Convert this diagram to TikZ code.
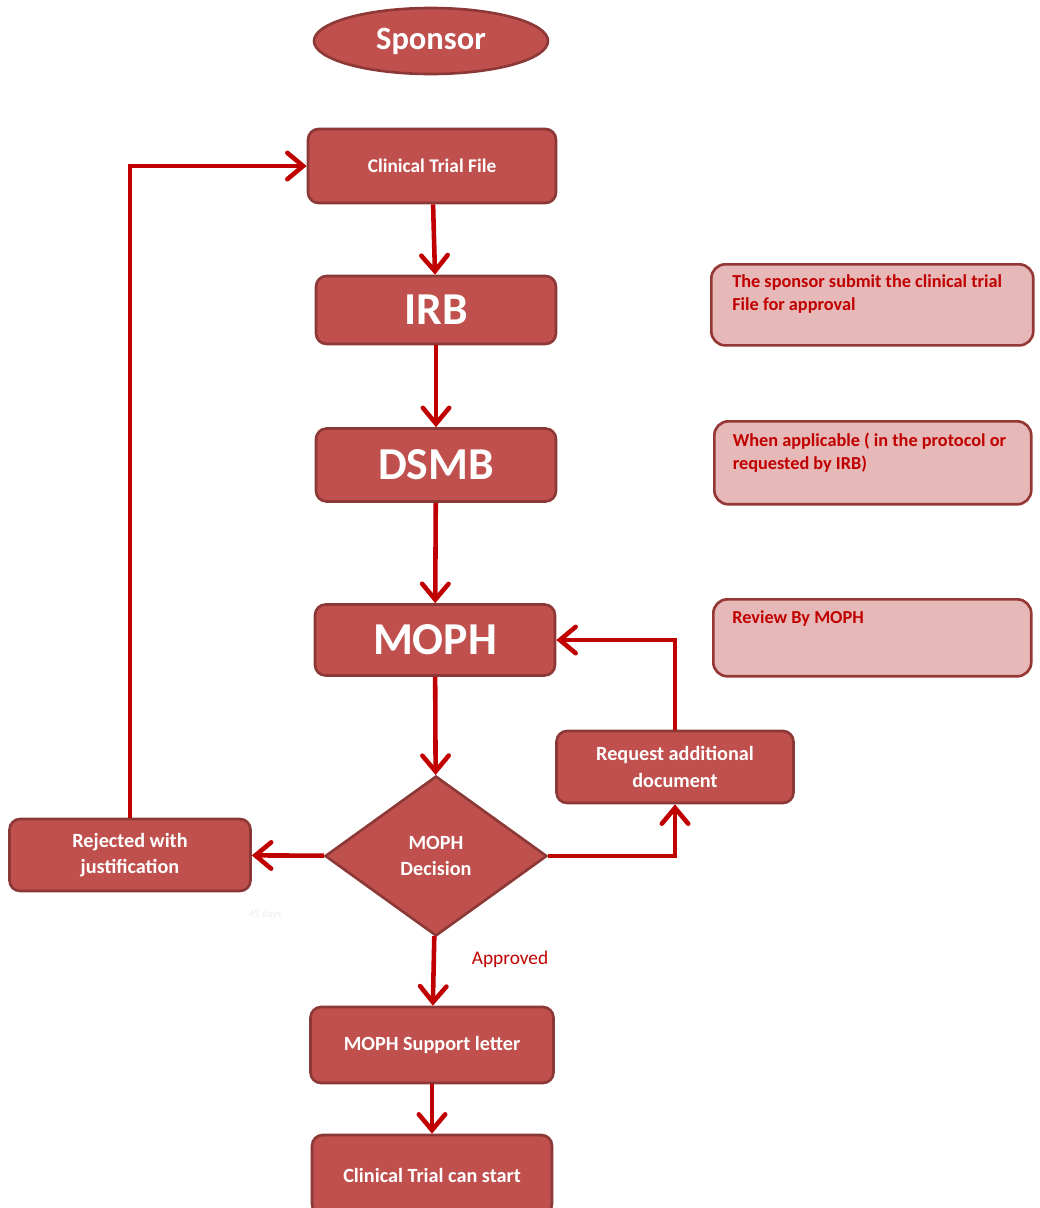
\documentclass[tikz,border=0pt]{standalone}
\usepackage{fontspec}
\setmainfont{Carlito}
\usetikzlibrary{arrows.meta,positioning,shapes.geometric}

\definecolor{boxred}{HTML}{C0504D}
\definecolor{boxedge}{HTML}{8C3836}
\definecolor{linkred}{HTML}{C00000}
\definecolor{notefill}{HTML}{E6B9B8}
\definecolor{noteedge}{HTML}{953735}

\begin{document}
\begin{tikzpicture}[
    x=0.02cm, y=-0.02cm,
    stepbox/.style={
        draw=boxedge,
        line width=1.5pt,
        rounded corners=6pt,
        fill=boxred,
        text=white,
        align=center,
        font=\bfseries\fontsize{11.5}{15}\selectfont,
        minimum width=4.8cm,
        minimum height=1.44cm
    },
    bigbox/.style={
        stepbox,
        font=\bfseries\fontsize{26}{28}\selectfont
    },
    notebox/.style={
        draw=noteedge,
        line width=1.5pt,
        rounded corners=8pt,
        fill=notefill,
        text=linkred,
        align=left,
        anchor=north west,
        font=\bfseries\fontsize{10.4}{13}\selectfont,
        inner xsep=8pt, inner ysep=6pt
    },
    line/.style={-{Straight Barb[length=9pt,width=15pt,line cap=round]}, line width=2.6pt, draw=linkred}
]
    \useasboundingbox (0,0) rectangle (1040,1208);

    % top of the chain
    \node[ellipse, draw=boxedge, line width=1.5pt, fill=boxred, text=white,
          minimum width=4.68cm, minimum height=1.32cm,
          font=\bfseries\fontsize{18.5}{20}\selectfont] (sponsor) at (431,41) {Sponsor};
    \node[stepbox, minimum width=4.96cm, minimum height=1.48cm,
          font=\bfseries\fontsize{11}{13}\selectfont] (ctf) at (432,166) {Clinical Trial File};
    \node[bigbox, minimum height=1.36cm] (irb) at (436,310) {IRB};
    \node[bigbox, minimum height=1.46cm] (dsmb) at (436,465) {DSMB};
    \node[bigbox, minimum height=1.42cm] (moph) at (435,640) {MOPH};

    % decision and its outcomes
    \node[diamond, draw=boxedge, line width=1.5pt, fill=boxred, text=white, align=center,
          inner sep=0pt, minimum width=4.44cm, minimum height=3.2cm,
          font=\bfseries\fontsize{11.5}{15}\selectfont] (decision) at (436,856) {MOPH\\Decision};
    \node[stepbox, minimum width=4.74cm] (request) at (675,767) {Request additional\\document};
    \node[stepbox, minimum width=4.82cm] (rejected) at (130,855) {Rejected with\\justification};
    \node[stepbox, minimum width=4.86cm, minimum height=1.52cm] (support) at (432,1045) {MOPH Support letter};
    \node[stepbox, minimum height=1.6cm] (start) at (432,1175) {Clinical Trial can start};

    % side notes
    \node[notebox, minimum width=6.44cm, minimum height=1.62cm] (note1) at (710,263)
        {\parbox[t][1.2cm][t]{5.6cm}{The sponsor submit the clinical trial\\File for approval}};
    \node[notebox, minimum width=6.34cm, minimum height=1.66cm] (note2) at (713,420)
        {\parbox[t][1.2cm][t]{5.6cm}{When applicable ( in the protocol or\\requested by IRB)}};
    \node[notebox, minimum width=6.36cm, minimum height=1.54cm] (note3) at (712,598)
        {\parbox[t][1.1cm][t]{5.6cm}{Review By MOPH}};

    \node[text=linkred, font=\fontsize{11}{13}\selectfont] (approved) at (510,959) {Approved};
    \node[text=black!8, font=\fontsize{6}{7}\selectfont] (days) at (265,915) {45 days};

    \draw[line] (ctf) -- (irb);
    \draw[line] (irb) -- (dsmb);
    \draw[line] (dsmb) -- (moph);
    \draw[line] (moph) -- (decision);
    \draw[line] (decision) -- (rejected);
    \draw[line] (rejected.north) |- (ctf.west);
    \draw[line] (decision.east) -| (request.south);
    \draw[line] (request.north) |- (moph.east);
    \draw[line] (decision) -- (support);
    \draw[line] (support) -- (start);
\end{tikzpicture}
\end{document}
